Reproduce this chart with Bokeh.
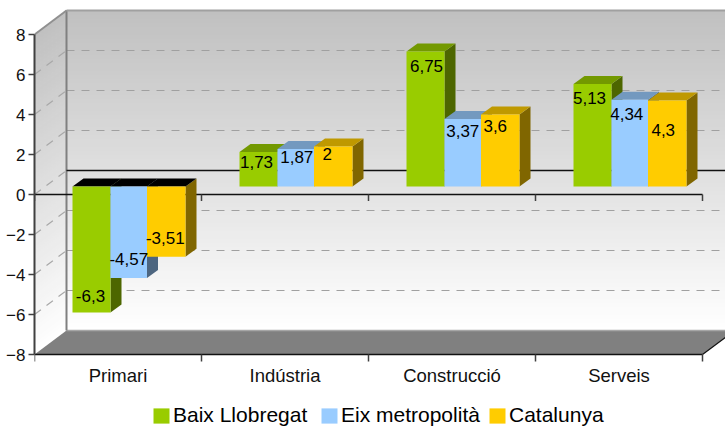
from bokeh.plotting import figure
from bokeh.models import LinearAxis, FixedTicker, Legend, LegendItem, ColumnDataSource, Range1d
from bokeh.core.properties import value
from bokeh.embed import file_html
from bokeh.resources import INLINE

categories = ["Primari", "Indústria", "Construcció", "Serveis"]
series_names = ["Baix Llobregat", "Eix metropolità", "Catalunya"]
baix = [-6.3, 1.73, 6.75, 5.13]
eix = [-4.57, 1.87, 3.37, 4.34]
catalunya = [-3.51, 2, 3.6, 4.3]
y_ticks = [-8, -6, -4, -2, 0, 2, 4, 6, 8]

front = ["#99cc00", "#99ccff", "#ffcc00"]
top = ["#739900", "#7399bf", "#bf9900"]
side = ["#4d6600", "#4d6680", "#806600"]

# label nudges in pixels, per series then category (x; y: + is towards the bar's inside)
label_dx = [[-1, -2, 1, -3], [0, 1, 0, -3], [-1, -6, -5, -4]]
label_dy = [[17, 10, 14, 14], [19, 8, 12, 14], [19, 7, 11, 29]]
legend_x = [117, 285, 453]

W, H = 725, 427
LEFT = 34
PX_X = 167.0   # pixels per category
PX_Y = 20.0    # pixels per unit
WALL_DX = 32 / PX_X
WALL_DY = 24 / PX_Y
BAR_DX = 11 / PX_X
BAR_DY = 8 / PX_Y
GROUP_START = 38 / PX_X
BAR_W = [38 / PX_X, 36.5 / PX_X, 38.5 / PX_X]

p = figure(width=W, height=H, output_backend="svg", toolbar_location=None,
           x_range=Range1d(0, (W - LEFT) / PX_X), y_range=Range1d(-8 - (H - 354) / PX_Y, 8 + 34 / PX_Y),
           x_axis_type=None, y_axis_type=None,
           min_border_left=LEFT, min_border_right=0, min_border_top=0, min_border_bottom=0,
           outline_line_color=None, background_fill_color="#ffffff", border_fill_color="#ffffff")
p.grid.visible = False

# walls: gradient built of thin strips
N = 80
xs_b, ys_b, xs_l, ys_l, cols = [], [], [], [], []
for i in range(N):
    v0 = -8 + 16 * i / N
    v1 = -8 + 16 * (i + 1) / N
    g = int(round(255 - 63 * (i + 0.5) / N))
    cols.append("#%02x%02x%02x" % (g, g, g))
    xs_b.append([WALL_DX, 5, 5, WALL_DX])
    ys_b.append([v0 + WALL_DY] * 2 + [v1 + WALL_DY] * 2)
    xs_l.append([0, WALL_DX, WALL_DX, 0])
    ys_l.append([v0, v0 + WALL_DY, v1 + WALL_DY, v1])
p.patches(xs_b, ys_b, fill_color=cols, line_color=cols, line_width=1)
p.patches(xs_l, ys_l, fill_color=cols, line_color=cols, line_width=1)

# floor
p.patch([0, WALL_DX, 4 + WALL_DX, 4], [-8, -8 + WALL_DY, -8 + WALL_DY, -8], fill_color="#808080", line_color=None)
p.segment([WALL_DX], [-8 + WALL_DY], [5], [-8 + WALL_DY], line_color="#a6a6a6", line_width=1.5)
p.segment([4], [-8], [4 + WALL_DX], [-8 + WALL_DY], line_color="#111111", line_width=1.2)

# gridlines
grid = [t for t in y_ticks if t not in (-8, 0, 8)]
p.segment([WALL_DX] * len(grid), [t + WALL_DY for t in grid], [5] * len(grid), [t + WALL_DY for t in grid],
          line_color="#a0a0a0", line_width=1.2, line_dash="8 7")
left = [t for t in y_ticks if t not in (-8, 8)]
p.segment([0] * len(left), left, [WALL_DX] * len(left), [t + WALL_DY for t in left],
          line_color="#a8a8a8", line_width=1.2, line_dash="8 7")

# wall edges
p.segment([WALL_DX], [-8 + WALL_DY], [WALL_DX], [8 + WALL_DY], line_color="#808080", line_width=2)
p.segment([WALL_DX], [8 + WALL_DY], [5], [8 + WALL_DY], line_color="#a0a0a0", line_width=2)
p.segment([0], [8], [WALL_DX], [8 + WALL_DY], line_color="#909090", line_width=2)

# zero lines (back and front) with the category ticks on the front one
p.segment([WALL_DX], [WALL_DY], [5], [WALL_DY], line_color="#111111", line_width=1.4)
p.segment([0], [0], [4], [0], line_color="#111111", line_width=1.4)
bounds = list(range(5))
p.segment(bounds, [0] * 5, bounds, [-0.33] * 5, line_color="#404040", line_width=1.5)

# bars
renderers = []
for s, vals in enumerate([baix, eix, catalunya]):
    lefts = [c + GROUP_START + sum(BAR_W[:s]) for c in range(4)]
    rights = [l + BAR_W[s] for l in lefts]
    tops = [BAR_DY + v for v in vals]
    base = [BAR_DY] * 4
    tx, ty, tc = [], [], []
    sx, sy = [], []
    for l, r, v in zip(lefts, rights, vals):
        cap = max(v, 0) + BAR_DY
        tx.append([l, l + BAR_DX, r + BAR_DX, r])
        ty.append([cap, cap + BAR_DY, cap + BAR_DY, cap])
        tc.append("#000000" if v < 0 else top[s])
        y_hi, y_lo = cap, min(v, 0) + BAR_DY
        sx.append([r, r + BAR_DX, r + BAR_DX, r])
        sy.append([y_hi, y_hi + BAR_DY, y_lo + BAR_DY, y_lo])
    p.patches(sx, sy, fill_color=side[s], line_color=None)
    p.patches(tx, ty, fill_color=tc, line_color=None)
    renderers.append(p.quad(left=lefts, right=rights, bottom=[min(a, b) for a, b in zip(base, tops)],
                            top=[max(a, b) for a, b in zip(base, tops)], fill_color=front[s], line_color=None))

# data labels drawn last
for s, vals in enumerate([baix, eix, catalunya]):
    src = ColumnDataSource(dict(
        x=[c + GROUP_START + sum(BAR_W[:s]) + BAR_W[s] / 2 for c in range(4)],
        y=[v + BAR_DY for v in vals],
        t=[str(v).replace(".", ",") for v in vals],
        dx=label_dx[s],
        dy=[(-d if v < 0 else d) for d, v in zip(label_dy[s], vals)],
    ))
    p.text("x", "y", text="t", source=src, x_offset="dx", y_offset="dy",
           text_align="center", text_baseline="middle",
           text_font=value("Liberation Sans"), text_font_size="17px", text_color="#000000")

# axes
yax = LinearAxis(ticker=FixedTicker(ticks=y_ticks), bounds=(-8, 8))
yax.axis_line_color = "#404040"
yax.axis_line_width = 2
yax.major_tick_line_color = "#404040"
yax.major_tick_line_width = 1.5
yax.major_tick_in = 0
yax.major_tick_out = 6
yax.minor_tick_line_color = None
yax.major_label_standoff = 3
yax.major_label_text_font = "Liberation Sans"
yax.major_label_text_font_size = "17px"
yax.major_label_text_color = "#111111"
p.add_layout(yax, "left")

xax = LinearAxis(ticker=FixedTicker(ticks=[0.5, 1.5, 2.5, 3.5], minor_ticks=bounds), bounds=(0, 4),
                 fixed_location=-8)
xax.major_label_overrides = {0.5 + i: c for i, c in enumerate(categories)}
xax.axis_line_color = "#111111"
xax.axis_line_width = 1.5
xax.major_tick_line_color = None
xax.minor_tick_line_color = "#404040"
xax.minor_tick_line_width = 1.5
xax.minor_tick_in = 0
xax.minor_tick_out = 7
xax.major_label_standoff = 3
xax.major_label_text_font = "Liberation Sans"
xax.major_label_text_font_size = "18.5px"
xax.major_label_text_color = "#111111"
p.add_layout(xax, "below")

for name, rend, lx in zip(series_names, renderers, legend_x):
    legend = Legend(items=[LegendItem(label=name, renderers=[rend])], orientation="horizontal",
                    location=(lx, 0), padding=0, margin=0, spacing=0, border_line_color=None,
                    background_fill_color=None, background_fill_alpha=0,
                    label_text_font="Liberation Sans", label_text_font_size="21px", label_text_color="#000000",
                    label_text_line_height=1.0,
                    glyph_width=20, glyph_height=19, label_standoff=2, label_height=15)
    p.add_layout(legend, "center")

open("out.html", "w").write(file_html(p, INLINE))
